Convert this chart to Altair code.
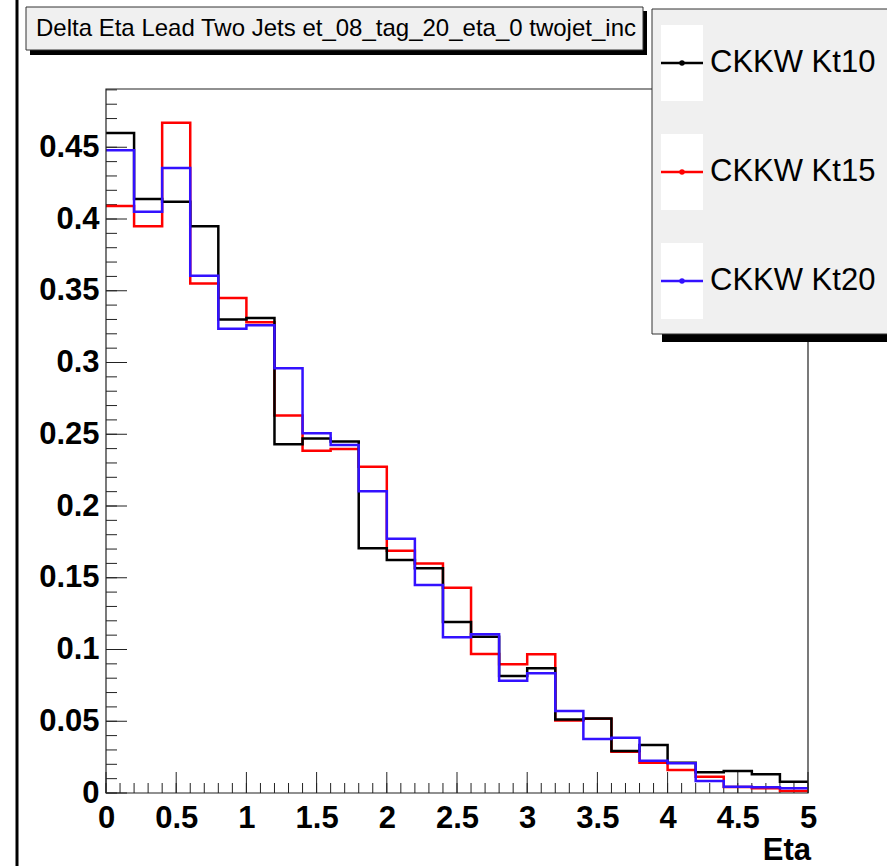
import altair as alt
import pandas as pd

# ---------------- data ----------------
bin_edges = [0.0, 0.2, 0.4, 0.6, 0.8, 1.0, 1.2, 1.4, 1.6, 1.8, 2.0, 2.2, 2.4,
             2.6, 2.8, 3.0, 3.2, 3.4, 3.6, 3.8, 4.0, 4.2, 4.4, 4.6, 4.8, 5.0]

kt10 = [0.460, 0.414, 0.412, 0.395, 0.330, 0.331, 0.243, 0.247, 0.245, 0.1705,
        0.1624, 0.1566, 0.1192, 0.1089, 0.0815, 0.0869, 0.0513, 0.0520, 0.0293,
        0.0334, 0.0211, 0.0144, 0.0153, 0.0130, 0.0079]
kt15 = [0.409, 0.395, 0.467, 0.355, 0.345, 0.328, 0.263, 0.2385, 0.2397, 0.2274,
        0.1689, 0.160, 0.1431, 0.0969, 0.0897, 0.0967, 0.0505, 0.0517, 0.0287,
        0.0211, 0.0160, 0.0114, 0.0042, 0.0033, 0.0014]
kt20 = [0.448, 0.405, 0.4355, 0.3605, 0.3236, 0.326, 0.296, 0.2507, 0.2425, 0.2102,
        0.1772, 0.145, 0.1085, 0.1106, 0.0783, 0.0834, 0.0571, 0.0376, 0.0385,
        0.0225, 0.0207, 0.0084, 0.0044, 0.0040, 0.0033]

series_names = ["CKKW Kt10", "CKKW Kt15", "CKKW Kt20"]
series_colors = ["#000000", "#ff0000", "#3311ff"]

x_labels = [0, 0.5, 1, 1.5, 2, 2.5, 3, 3.5, 4, 4.5, 5]
y_labels = [0, 0.05, 0.1, 0.15, 0.2, 0.25, 0.3, 0.35, 0.4, 0.45]
x_minor = [round(0.1 * i, 2) for i in range(51)]
y_minor = [round(0.01 * i, 2) for i in range(50)]

title_text = "Delta Eta Lead Two Jets et_08_tag_20_eta_0 twojet_inc"
x_title = "Eta"

# ---------------- build tables ----------------
rows = []
for name, vals in zip(series_names, [kt10, kt15, kt20]):
    for i, e in enumerate(bin_edges):
        rows.append({"series": name, "eta": e, "value": vals[min(i, len(vals) - 1)]})
df = pd.DataFrame(rows)

W, H = 702, 704
FONT = "Liberation Sans"
xs = alt.Scale(domain=[0, 5], nice=False, zero=False)
ys = alt.Scale(domain=[0, 0.4906], nice=False, zero=False)

x_axis = alt.Axis(values=x_labels, format="~g", title=None, domain=False, ticks=False,
                  grid=False, labelFont=FONT, labelFontWeight="bold", labelFontSize=31,
                  labelColor="black", labelPadding=10, labelFlush=False, labelOverlap=False)
y_axis = alt.Axis(values=y_labels, format="~g", title=None, domain=False, ticks=False,
                  grid=False, labelFont=FONT, labelFontWeight="bold", labelFontSize=31,
                  labelColor="black", labelPadding=7, labelOverlap=False, labelBaseline="middle")

one = alt.Data(values=[{"a": 1}])

def rect(x, x2, y, y2, **kw):
    return alt.Chart(one).mark_rect(**kw).encode(
        x=alt.value(x), x2=alt.value(x2), y=alt.value(y), y2=alt.value(y2))

def text(t, x, y, **kw):
    return alt.Chart(alt.Data(values=[{"t": t}])).mark_text(**kw).encode(
        x=alt.value(x), y=alt.value(y), text="t:N")

layers = []

# inward ticks
xmaj = pd.DataFrame({"eta": x_labels})
xmin = pd.DataFrame({"eta": x_minor})
ymaj = pd.DataFrame({"value": y_labels})
ymin = pd.DataFrame({"value": y_minor})
tick_col = "#222222"
layers.append(alt.Chart(xmin).mark_rule(color=tick_col, strokeWidth=1).encode(
    x=alt.X("eta:Q", scale=xs, axis=x_axis), y=alt.value(H), y2=alt.value(H - 10)))
layers.append(alt.Chart(xmaj).mark_rule(color=tick_col, strokeWidth=1).encode(
    x=alt.X("eta:Q", scale=xs, axis=x_axis), y=alt.value(H), y2=alt.value(H - 21)))
layers.append(alt.Chart(ymin).mark_rule(color=tick_col, strokeWidth=1).encode(
    y=alt.Y("value:Q", scale=ys, axis=y_axis), x=alt.value(0), x2=alt.value(11)))
layers.append(alt.Chart(ymaj).mark_rule(color=tick_col, strokeWidth=1).encode(
    y=alt.Y("value:Q", scale=ys, axis=y_axis), x=alt.value(0), x2=alt.value(21)))

# histogram step lines: drawn red, black, blue (blue on top)
for idx in [1, 0, 2]:
    name = series_names[idx]
    layers.append(alt.Chart(df).transform_filter(alt.datum.series == name).mark_line(
        interpolate="step-after", strokeWidth=2.5, color=series_colors[idx]).encode(
        x=alt.X("eta:Q", scale=xs, axis=x_axis),
        y=alt.Y("value:Q", scale=ys, axis=y_axis)))

# frame
layers.append(rect(0, W, 0, H, filled=False, stroke="#222222", strokeWidth=1.2))

# x axis title
layers.append(text(x_title, 705, 771, font=FONT, fontWeight="bold", fontSize=31,
                   align="right", baseline="alphabetic", color="black"))

# left border line
layers.append(rect(-90.5, -87.5, -89, H + 73, color="black"))

# title box with shadow
layers.append(rect(-76, 541, -78, -34, color="black"))
layers.append(rect(-80, 537, -82, -39, fill="#f0f0f0", stroke="#333333", strokeWidth=1))
layers.append(text(title_text, 230, -60.5, font=FONT, fontSize=24, align="center",
                   baseline="middle", color="black"))

# legend box with shadow
layers.append(rect(556, 800, -71, 253, color="black"))
layers.append(rect(546, 795, -80, 245, fill="#f0f0f0", stroke="#333333", strokeWidth=1))
entry_y = [-26, 83, 192]
for name, col, yc in zip(series_names, series_colors, entry_y):
    layers.append(rect(555, 597, yc - 38, yc + 38, color="#ffffff"))
    layers.append(alt.Chart(one).mark_rule(color=col, strokeWidth=2.5).encode(
        x=alt.value(555), x2=alt.value(597), y=alt.value(yc)))
    layers.append(alt.Chart(one).mark_point(filled=True, size=30, color=col, opacity=1).encode(
        x=alt.value(576), y=alt.value(yc)))
    layers.append(text(name, 604, yc, font=FONT, fontSize=31, align="left",
                       baseline="middle", color="black"))

chart = alt.layer(*layers).properties(
    width=W, height=H,
    padding={"left": 106, "top": 89, "right": 79, "bottom": 73},
    autosize=alt.AutoSizeParams(type="none"),
    background="white",
).configure_view(stroke=None)

chart.save("out.html", embed_options={"renderer": "svg", "actions": False})
